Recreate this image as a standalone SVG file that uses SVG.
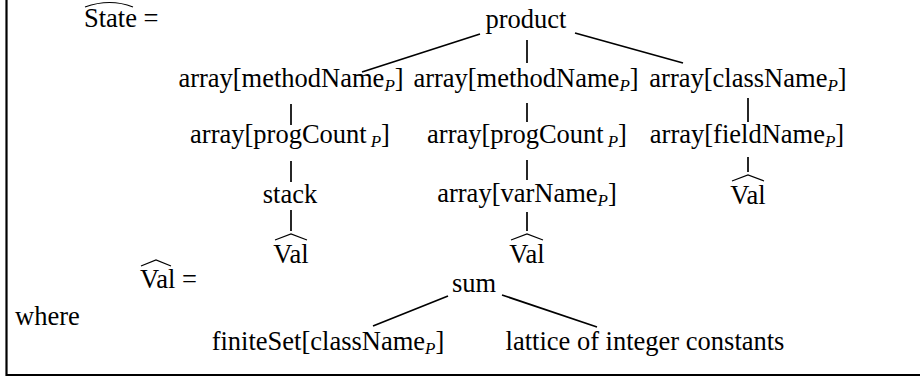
<svg xmlns="http://www.w3.org/2000/svg" width="920" height="379" viewBox="0 0 920 379">
<style>
text{font-family:"Liberation Serif","Times New Roman",serif;font-size:26.5px;fill:#000}
.c{text-anchor:middle}
.s{font-style:italic;font-size:17px}
.e{stroke:#000;stroke-width:1.7;fill:none}
.hat{stroke:#000;stroke-width:1.2;fill:none}
.frame{stroke:#000;stroke-width:2.2;fill:none}
</style>
<rect width="920" height="379" fill="#fff"/>
<path class="frame" d="M6.5,0 V375 H920"/>
<g id="connectors">
<line class="e" x1="362" y1="72" x2="480" y2="34"/>
<line class="e" x1="527" y1="40" x2="527" y2="63"/>
<line class="e" x1="575" y1="33" x2="683" y2="63"/>
<line class="e" x1="291" y1="104" x2="291" y2="125"/>
<line class="e" x1="527" y1="103" x2="527" y2="122"/>
<line class="e" x1="748" y1="98" x2="748" y2="122"/>
<line class="e" x1="291" y1="161" x2="291" y2="182"/>
<line class="e" x1="527" y1="160" x2="527" y2="180"/>
<line class="e" x1="748" y1="157" x2="748" y2="172"/>
<line class="e" x1="291" y1="210" x2="291" y2="231"/>
<line class="e" x1="527" y1="212" x2="527" y2="231"/>
<line class="e" x1="373" y1="326" x2="448" y2="296"/>
<line class="e" x1="502" y1="295" x2="597" y2="327"/>
</g>
<g id="state-eq">
<text x="84" y="27">State =</text>
<path class="hat" d="M85,7 Q110,-2 133,7"/>
</g>
<g id="product"><text class="c" x="526" y="28">product</text></g>
<g id="methodName1"><text class="c" x="291" y="87">array[methodName<tspan class="s" dy="4">P</tspan><tspan dy="-4">]</tspan></text></g>
<g id="methodName2"><text class="c" x="526" y="87">array[methodName<tspan class="s" dy="4">P</tspan><tspan dy="-4">]</tspan></text></g>
<g id="className"><text class="c" x="748" y="87">array[className<tspan class="s" dy="4">P</tspan><tspan dy="-4">]</tspan></text></g>
<g id="progCount1"><text class="c" x="290" y="143">array[progCount<tspan class="s" dx="4" dy="4">P</tspan><tspan dy="-4">]</tspan></text></g>
<g id="progCount2"><text class="c" x="527" y="143">array[progCount<tspan class="s" dx="4" dy="4">P</tspan><tspan dy="-4">]</tspan></text></g>
<g id="fieldName"><text class="c" x="747" y="143">array[fieldName<tspan class="s" dy="4">P</tspan><tspan dy="-4">]</tspan></text></g>
<g id="stack"><text class="c" x="290" y="203">stack</text></g>
<g id="varName"><text class="c" x="527" y="202">array[varName<tspan class="s" dy="4">P</tspan><tspan dy="-4">]</tspan></text></g>
<g id="val3"><text class="c" x="748" y="204">Val</text><path class="hat" d="M732,181 L748,175 L764,181"/></g>
<g id="val1"><text class="c" x="291" y="263">Val</text><path class="hat" d="M275,240 L291,234 L307,240"/></g>
<g id="val2"><text class="c" x="527" y="263">Val</text><path class="hat" d="M511,240 L527,234 L543,240"/></g>
<g id="val-eq"><text x="140" y="288">Val =</text><path class="hat" d="M141,266 L156,260 L171,266"/></g>
<g id="sum"><text class="c" x="474" y="292">sum</text></g>
<g id="where"><text x="15" y="325">where</text></g>
<g id="finiteSet"><text class="c" x="328" y="350">finiteSet[className<tspan class="s" dy="4">P</tspan><tspan dy="-4">]</tspan></text></g>
<g id="lattice"><text class="c" x="645" y="350">lattice of integer constants</text></g>
</svg>
